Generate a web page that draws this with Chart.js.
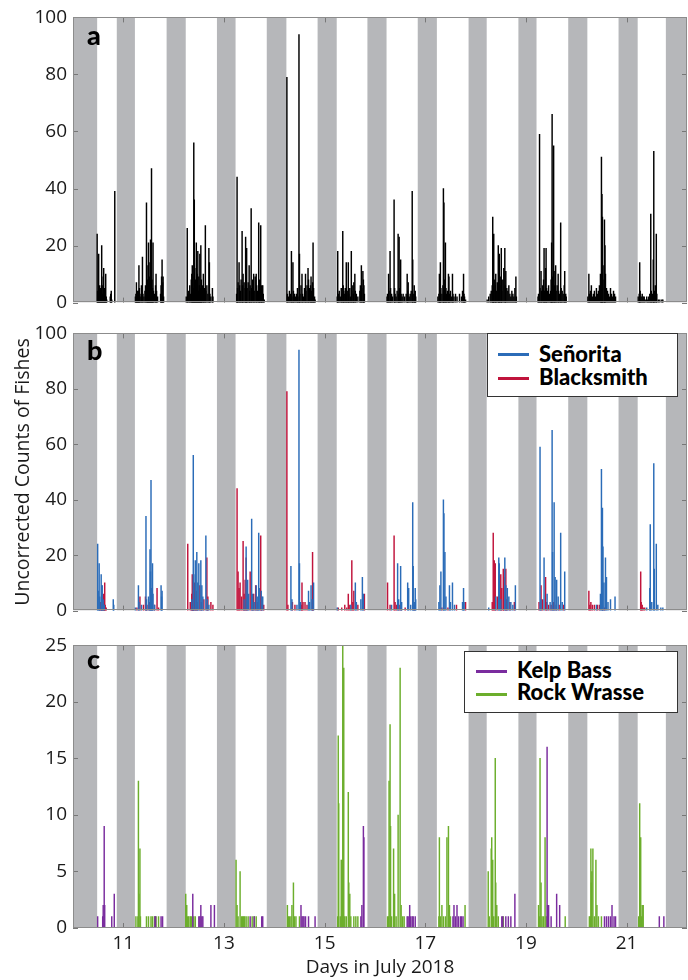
<!DOCTYPE html>
<html>
<head>
<meta charset="utf-8">
<script src="https://cdn.jsdelivr.net/npm/chart.js@4.4.0/dist/chart.umd.min.js"></script>
<style>
  body { margin: 0; background: #fff; }
  #wrap { position: relative; width: 688px; height: 980px; overflow: hidden; }
  .panel { position: absolute; left: 0; }
  .tag { position: absolute; left: 87px; font: 900 27px Lato; line-height: 27px; color: #000; }
  .legend { position: absolute; background: #fff; border: 1.5px solid #333; box-sizing: border-box; }
  .legend div { position: absolute; font: 900 22px Lato; line-height: 22px; white-space: nowrap; color: #000; }
  .legend span { position: absolute; height: 3px; width: 31px; }
</style>
</head>
<body>
<div id="wrap">
  <canvas id="chartA" class="panel" width="688" height="320" style="top:0px"></canvas>
  <canvas id="chartB" class="panel" width="688" height="312" style="top:316px"></canvas>
  <canvas id="chartC" class="panel" width="688" height="352" style="top:628px"></canvas>

  <div class="tag" style="top:21px">a</div>
  <div class="tag" style="top:336px">b</div>
  <div class="tag" style="top:645px">c</div>

  <div class="legend" style="left:487px; top:333px; width:191px; height:64px">
    <span style="left:10px; top:19px; background:#2b6cb8"></span>
    <div style="left:51px; top:9px">Señorita</div>
    <span style="left:10px; top:43px; background:#c0143c"></span>
    <div style="left:51px; top:32px">Blacksmith</div>
  </div>
  <div class="legend" style="left:464px; top:651px; width:214px; height:62px">
    <span style="left:11px; top:18px; background:#7a2c9e"></span>
    <div style="left:52px; top:7px">Kelp Bass</div>
    <span style="left:11px; top:41px; background:#6cae2c"></span>
    <div style="left:52px; top:29px">Rock Wrasse</div>
  </div>
</div>
<script>
// tick labels
const dayTicks = [11, 13, 15, 17, 19, 21];
const countTicks = [0, 20, 40, 60, 80, 100];
const smallCountTicks = [0, 5, 10, 15, 20, 25];

// night periods (grey), in days of July 2018
const nightStart = [10.0, 10.87, 11.86, 12.86, 13.85, 14.86, 15.85, 16.85, 17.86, 18.85, 19.84, 20.84, 21.78];
const nightEnd = [10.48, 11.23, 12.24, 13.23, 14.24, 15.24, 16.23, 17.23, 18.22, 19.21, 20.22, 21.22, 22.2];

// [day, count]
const allFishes = [
  [10.48,24],[10.49,4],[10.50,3],[10.51,17],[10.52,5],[10.53,6],[10.54,4],[10.55,5],[10.56,3],[10.57,20],[10.58,6],[10.59,3],[10.60,9],[10.61,12],[10.62,4],[10.63,5],[10.64,3],[10.65,10],[10.66,2],[10.67,1],[10.74,2],[10.75,3],[10.76,4],[10.77,1],[10.83,39],
  [11.24,2],[11.25,3],[11.26,7],[11.27,2],[11.28,4],[11.29,3],[11.30,4],[11.31,13],[11.32,5],[11.33,3],[11.35,2],[11.36,6],[11.38,16],[11.39,3],[11.41,2],[11.43,4],[11.44,6],[11.46,35],[11.47,5],[11.48,8],[11.49,13],[11.50,21],[11.51,6],[11.52,9],[11.53,14],[11.54,22],[11.55,10],[11.56,47],[11.57,8],[11.58,5],[11.59,21],[11.60,4],[11.62,3],[11.64,6],[11.65,10],[11.66,4],[11.68,2],[11.74,3],[11.75,6],[11.76,9],[11.77,15],[11.78,7],[11.79,9],[11.80,2],
  [12.25,2],[12.27,26],[12.28,3],[12.30,4],[12.32,6],[12.33,3],[12.35,8],[12.36,10],[12.37,13],[12.38,9],[12.39,5],[12.40,56],[12.41,36],[12.42,12],[12.43,8],[12.44,6],[12.45,21],[12.46,7],[12.47,10],[12.48,18],[12.49,4],[12.50,9],[12.51,6],[12.52,17],[12.53,5],[12.54,20],[12.55,8],[12.56,4],[12.57,6],[12.59,10],[12.60,3],[12.61,5],[12.63,27],[12.64,4],[12.66,6],[12.68,3],[12.70,19],[12.71,14],[12.72,3],[12.74,2],[12.77,5],[12.78,2],
  [13.25,3],[13.26,44],[13.27,5],[13.28,7],[13.30,14],[13.31,6],[13.33,4],[13.34,8],[13.36,25],[13.37,6],[13.38,10],[13.40,7],[13.42,5],[13.43,23],[13.44,8],[13.45,19],[13.46,5],[13.48,7],[13.50,13],[13.51,4],[13.52,6],[13.54,33],[13.55,5],[13.57,8],[13.59,10],[13.60,4],[13.62,9],[13.64,10],[13.65,6],[13.67,4],[13.69,28],[13.70,5],[13.71,8],[13.73,27],[13.74,4],[13.75,6],[13.77,6],[13.78,3],[13.80,1],
  [14.25,79],[14.26,3],[14.28,2],[14.30,4],[14.32,3],[14.34,18],[14.35,2],[14.37,14],[14.38,4],[14.40,3],[14.42,2],[14.44,3],[14.46,5],[14.47,2],[14.49,94],[14.50,17],[14.51,3],[14.53,6],[14.55,10],[14.56,3],[14.58,2],[14.60,5],[14.62,10],[14.63,4],[14.65,6],[14.67,12],[14.68,8],[14.70,5],[14.72,6],[14.73,9],[14.74,4],[14.76,7],[14.77,21],[14.78,5],[14.80,2],[14.81,1],
  [15.25,2],[15.26,18],[15.27,3],[15.29,4],[15.31,2],[15.33,5],[15.34,3],[15.36,25],[15.37,6],[15.38,4],[15.40,3],[15.41,5],[15.43,14],[15.44,3],[15.46,4],[15.47,14],[15.48,3],[15.50,5],[15.51,2],[15.53,18],[15.54,4],[15.56,6],[15.57,3],[15.58,7],[15.60,10],[15.61,4],[15.63,3],[15.66,2],[15.70,4],[15.71,6],[15.73,13],[15.74,5],[15.76,11],[15.77,8],[15.78,6],[15.79,3],
  [16.24,2],[16.25,3],[16.27,10],[16.28,4],[16.30,18],[16.31,5],[16.33,3],[16.35,2],[16.38,36],[16.39,5],[16.40,3],[16.42,2],[16.44,4],[16.46,24],[16.47,3],[16.48,23],[16.49,5],[16.51,15],[16.52,3],[16.54,2],[16.56,3],[16.59,2],[16.62,3],[16.64,10],[16.65,4],[16.66,7],[16.68,2],[16.70,3],[16.72,4],[16.74,39],[16.75,15],[16.76,3],[16.78,6],[16.79,3],[16.80,4],[16.81,2],
  [17.25,2],[17.27,3],[17.28,10],[17.29,4],[17.30,14],[17.31,5],[17.33,3],[17.35,6],[17.36,40],[17.37,35],[17.38,8],[17.40,21],[17.41,5],[17.42,3],[17.44,4],[17.46,10],[17.47,9],[17.48,3],[17.50,4],[17.52,2],[17.54,10],[17.55,3],[17.57,2],[17.60,3],[17.63,2],[17.68,3],[17.72,2],[17.74,4],[17.76,10],[17.77,3],[17.78,2],[17.80,1],
  [18.23,1],[18.26,2],[18.29,3],[18.31,4],[18.33,6],[18.34,30],[18.35,5],[18.36,24],[18.37,8],[18.39,6],[18.40,10],[18.41,4],[18.43,7],[18.45,20],[18.46,5],[18.47,17],[18.48,6],[18.50,9],[18.51,19],[18.52,4],[18.54,8],[18.56,12],[18.58,19],[18.59,6],[18.60,11],[18.62,5],[18.64,4],[18.66,6],[18.68,3],[18.70,2],[18.72,4],[18.74,3],[18.76,2],[18.78,5],[18.80,9],[18.81,2],
  [19.24,2],[19.25,3],[19.27,59],[19.28,5],[19.30,11],[19.31,4],[19.33,6],[19.35,8],[19.36,19],[19.37,4],[19.39,12],[19.40,19],[19.41,5],[19.43,4],[19.45,6],[19.47,3],[19.49,4],[19.50,8],[19.51,21],[19.52,66],[19.53,9],[19.55,55],[19.56,11],[19.57,6],[19.59,13],[19.60,4],[19.62,6],[19.64,10],[19.65,4],[19.67,3],[19.69,28],[19.70,5],[19.72,4],[19.74,3],[19.76,6],[19.77,11],[19.79,3],[19.80,2],
  [20.23,2],[20.25,10],[20.26,3],[20.28,4],[20.30,6],[20.32,2],[20.34,3],[20.36,4],[20.38,2],[20.40,5],[20.42,3],[20.44,4],[20.46,6],[20.48,10],[20.49,4],[20.50,51],[20.51,38],[20.52,30],[20.53,8],[20.55,13],[20.56,29],[20.57,20],[20.58,10],[20.60,5],[20.62,4],[20.64,3],[20.66,2],[20.68,5],[20.70,3],[20.72,2],[20.74,4],[20.76,3],[20.78,2],
  [21.23,2],[21.25,3],[21.26,14],[21.27,4],[21.29,2],[21.31,3],[21.33,2],[21.35,2],[21.37,1],[21.40,2],[21.42,1],[21.44,2],[21.46,3],[21.48,31],[21.49,4],[21.51,3],[21.53,15],[21.54,53],[21.55,4],[21.57,6],[21.59,24],[21.60,3],[21.63,1],[21.66,1],[21.70,1],[21.72,1]
];

const senorita = [
  [10.49,24],[10.50,7],[10.52,17],[10.53,5],[10.56,13],[10.57,9],[10.58,9],[10.60,4],[10.62,2],[10.80,4],[10.81,2],
  [11.24,1],[11.30,9],[11.31,3],[11.36,2],[11.45,34],[11.46,4],[11.50,5],[11.53,22],[11.54,14],[11.55,47],[11.56,8],[11.58,17],[11.59,6],[11.62,2],[11.75,9],[11.76,5],[11.77,7],
  [12.36,4],[12.39,56],[12.40,13],[12.43,18],[12.46,21],[12.48,10],[12.50,17],[12.54,18],[12.56,9],[12.58,5],[12.64,27],[12.67,4],[12.70,2],
  [13.40,4],[13.44,23],[13.47,11],[13.49,6],[13.55,33],[13.57,6],[13.60,3],[13.64,9],[13.66,5],[13.69,28],[13.70,8],[13.74,7],[13.77,5],
  [14.33,16],[14.35,4],[14.45,2],[14.49,94],[14.50,17],[14.52,3],[14.68,7],[14.70,3],[14.73,9],[14.75,4],[14.78,10],
  [15.25,1],[15.52,2],[15.61,10],[15.63,3],[15.72,4],[15.75,12],[15.77,6],
  [16.33,2],[16.45,17],[16.47,4],[16.51,16],[16.53,3],[16.65,10],[16.67,8],[16.71,2],[16.75,39],[16.76,16],[16.78,3],[16.80,8],[16.81,4],
  [17.27,3],[17.29,9],[17.31,14],[17.36,40],[17.37,35],[17.39,21],[17.41,5],[17.48,9],[17.50,3],[17.54,10],[17.58,2],[17.74,3],[17.76,8],[17.77,3],
  [18.26,1],[18.40,5],[18.46,19],[18.47,17],[18.50,4],[18.58,19],[18.60,9],[18.63,8],[18.66,5],[18.70,3],[18.74,2],[18.79,9],
  [19.28,59],[19.30,4],[19.36,19],[19.42,6],[19.48,3],[19.52,65],[19.53,21],[19.56,39],[19.58,12],[19.61,11],[19.64,5],[19.69,28],[19.72,3],[19.77,14],
  [20.40,2],[20.48,6],[20.50,51],[20.52,37],[20.53,23],[20.55,10],[20.58,19],[20.60,12],[20.63,3],[20.68,4],[20.77,5],
  [21.40,1],[21.46,8],[21.47,31],[21.50,3],[21.54,53],[21.55,15],[21.59,24],[21.62,2],[21.68,1],[21.72,1]
];

const blacksmith = [
  [10.53,2],[10.55,3],[10.57,5],[10.59,4],[10.61,6],[10.62,3],[10.63,10],[10.64,2],[10.66,1],
  [11.27,1],[11.33,5],[11.40,2],[11.44,5],[11.47,2],[11.52,3],[11.57,3],[11.62,2],[11.67,8],[11.70,1],
  [12.28,24],[12.33,3],[12.36,6],[12.37,13],[12.38,8],[12.39,5],[12.41,10],[12.43,4],[12.45,7],[12.47,3],[12.52,9],[12.55,3],[12.60,4],[12.66,19],[12.68,5],[12.74,3],[12.78,2],
  [13.26,44],[13.28,14],[13.30,8],[13.32,10],[13.35,5],[13.38,25],[13.40,6],[13.42,11],[13.44,19],[13.46,4],[13.52,14],[13.56,4],[13.59,6],[13.63,9],[13.67,3],[13.73,27],[13.75,5],[13.79,2],
  [14.25,79],[14.27,2],[14.36,3],[14.41,2],[14.54,2],[14.55,10],[14.57,3],[14.61,3],[14.65,2],[14.76,21],[14.77,4],
  [15.27,1],[15.34,1],[15.40,2],[15.44,1],[15.47,6],[15.50,2],[15.54,18],[15.56,3],[15.58,7],[15.66,2],[15.79,6],
  [16.25,10],[16.30,2],[16.38,27],[16.40,3],[16.43,2],[16.48,2],[16.52,3],[16.60,1],[16.78,2],
  [17.33,1],[17.45,1],[17.62,2],[17.80,3],
  [18.33,3],[18.35,28],[18.37,18],[18.39,17],[18.43,5],[18.50,13],[18.52,8],[18.55,15],[18.56,12],[18.60,15],[18.62,4],[18.68,3],[18.77,3],
  [19.26,3],[19.30,9],[19.33,4],[19.39,12],[19.41,3],[19.45,2],[19.50,2],[19.55,3],[19.60,2],[19.66,2],[19.75,2],
  [20.25,7],[20.27,2],[20.29,3],[20.32,2],[20.36,2],[20.42,2],[20.46,2],[20.52,2],[20.56,1],
  [21.28,14],[21.29,3],[21.31,2],[21.33,1],[21.36,1]
];

const kelpBass = [
  [10.49,1],[10.59,1],[10.60,2],[10.62,9],[10.63,2],[10.77,1],[10.82,3],
  [11.63,1],[11.64,1],[11.75,1],[11.78,1],
  [12.38,3],[12.50,1],[12.52,1],[12.54,2],[12.56,1],[12.58,1],[12.74,2],[12.81,2],
  [13.52,1],[13.60,1],[13.75,1],[13.77,1],
  [14.53,2],[14.55,1],[14.57,1],[14.59,1],[14.62,1],[14.68,1],[14.81,1],
  [15.72,1],[15.74,2],[15.77,9],[15.78,8],
  [16.64,1],[16.66,1],[16.69,2],[16.71,1],[16.74,1],[16.76,1],[16.80,1],
  [17.55,1],[17.57,2],[17.60,1],[17.63,2],[17.66,1],[17.70,1],[17.72,1],[17.75,1],
  [18.52,1],[18.54,1],[18.60,1],[18.65,1],[18.70,1],[18.78,3],
  [19.42,16],[19.43,2],[19.45,2],[19.50,1],[19.61,3],[19.67,2],
  [20.56,1],[20.60,1],[20.64,1],[20.68,1],[20.71,2],[20.75,1],[20.78,1],
  [21.65,1],[21.74,1]
];

const rockWrasse = [
  [11.25,1],[11.29,1],[11.30,13],[11.31,3],[11.33,7],[11.34,1],[11.46,1],[11.50,1],[11.55,1],[11.58,1],[11.62,1],[11.65,1],[11.70,1],
  [12.24,3],[12.26,2],[12.28,1],[12.30,1],[12.33,1],[12.35,1],[12.40,1],[12.43,1],
  [13.24,6],[13.26,2],[13.28,1],[13.32,5],[13.35,1],[13.37,1],[13.39,1],[13.41,1],[13.44,1],[13.48,1],[13.56,1],[13.60,1],[13.64,1],
  [14.26,2],[14.28,1],[14.30,1],[14.33,1],[14.35,2],[14.38,4],[14.40,1],[14.43,1],[14.50,1],
  [15.26,1],[15.27,17],[15.28,11],[15.31,1],[15.33,6],[15.35,6],[15.36,25],[15.38,23],[15.40,1],[15.43,1],[15.47,12],[15.48,4],[15.50,3],[15.52,1],[15.58,1],[15.62,1],[15.66,1],
  [16.25,1],[16.27,1],[16.28,13],[16.30,18],[16.31,9],[16.33,1],[16.37,7],[16.39,3],[16.42,1],[16.46,10],[16.50,23],[16.52,2],[16.55,1],[16.58,1],
  [17.27,1],[17.28,8],[17.30,1],[17.33,2],[17.36,1],[17.40,1],[17.43,8],[17.46,9],[17.48,2],[17.50,1],[17.79,2],
  [18.25,5],[18.27,1],[18.31,7],[18.32,8],[18.34,6],[18.36,1],[18.39,15],[18.40,4],[18.42,2],[18.45,1],[18.55,1],
  [19.25,2],[19.27,1],[19.28,15],[19.30,4],[19.32,1],[19.35,1],[19.38,8],[19.40,1],[19.78,1],
  [20.26,1],[20.28,1],[20.29,7],[20.30,4],[20.31,5],[20.33,7],[20.36,1],[20.39,6],[20.41,2],[20.44,1],[20.50,1],
  [21.24,1],[21.26,11],[21.27,7],[21.28,8],[21.30,1],[21.31,2],[21.33,2]
];

Chart.defaults.font.family = "'Open Sans', sans-serif";
Chart.defaults.color = '#1a1a1a';

const toPoints = arr => arr.map(p => ({ x: p[0], y: p[1] }));

function spikes(label, arr, color) {
  return {
    label: label,
    data: toPoints(arr),
    backgroundColor: color,
    borderWidth: 0,
    barThickness: 0.8,
    stack: 'one'
  };
}

// grey night bands, inner tick marks and the frame
const nightBands = {
  id: 'nightBands',
  beforeDatasetsDraw(chart) {
    const { ctx, chartArea: a, scales: { x } } = chart;
    ctx.save();
    ctx.beginPath();
    ctx.rect(a.left, a.top, a.width, a.height);
    ctx.clip();
    ctx.fillStyle = '#b6b7ba';
    nightStart.forEach((s, i) => {
      const x1 = x.getPixelForValue(s);
      const x2 = x.getPixelForValue(nightEnd[i]);
      ctx.fillRect(x1, a.top, x2 - x1, a.height);
    });
    ctx.restore();
  },
  afterDatasetsDraw(chart) {
    const { ctx, chartArea: a, scales: { x, y } } = chart;
    ctx.save();
    ctx.lineWidth = 1;
    ctx.strokeStyle = '#777';
    ctx.beginPath();
    dayTicks.forEach(v => {
      const px = Math.round(x.getPixelForValue(v)) + 0.5;
      ctx.moveTo(px, a.top); ctx.lineTo(px, a.top + 5);
      ctx.moveTo(px, a.bottom); ctx.lineTo(px, a.bottom - 5);
    });
    y.ticks.forEach(t => {
      const py = Math.round(y.getPixelForValue(t.value)) + 0.5;
      ctx.moveTo(a.left, py); ctx.lineTo(a.left + 5, py);
      ctx.moveTo(a.right, py); ctx.lineTo(a.right - 5, py);
    });
    ctx.stroke();
    ctx.strokeStyle = '#8c8c8c';
    ctx.strokeRect(Math.round(a.left) + 0.5, Math.round(a.top) + 0.5, Math.round(a.width) - 1, Math.round(a.height) - 1);
    ctx.restore();
  }
};

function makePanel(id, datasets, yTicks, padTop, padBottom, showX, yTitle) {
  return new Chart(document.getElementById(id), {
    type: 'bar',
    data: { datasets: datasets },
    options: {
      responsive: false,
      animation: false,
      devicePixelRatio: 1,
      layout: { padding: { top: padTop, bottom: padBottom, left: 0, right: 1 } },
      plugins: { legend: { display: false }, tooltip: { enabled: false } },
      scales: {
        x: {
          type: 'linear', min: 10, max: 22.2, offset: false,
          grid: { display: false, drawTicks: false },
          border: { display: false },
          afterBuildTicks: s => { s.ticks = dayTicks.map(v => ({ value: v })); },
          afterFit: s => { s.height = showX ? 52 : 0; },
          ticks: { display: showX, padding: 4, font: { size: 19 } },
          title: { display: showX, text: 'Days in July 2018', font: { size: 19 }, padding: { top: 0, bottom: 1 } }
        },
        y: {
          min: 0, max: yTicks[yTicks.length - 1], stacked: false,
          grid: { display: false, drawTicks: false },
          border: { display: false },
          afterBuildTicks: s => { s.ticks = yTicks.map(v => ({ value: v })); },
          afterFit: s => { s.width = 73; },
          ticks: { padding: 6, font: { size: 19 } },
          title: { display: !!yTitle, text: yTitle || '', font: { size: 19.5 }, padding: { top: 12, bottom: 0 } }
        }
      }
    },
    plugins: [nightBands]
  });
}

makePanel('chartA', [spikes('All fishes', allFishes, '#000000')], countTicks, 15, 14, false);
makePanel('chartB', [
  spikes('Señorita', senorita, '#2b6cb8'),
  spikes('Blacksmith', blacksmith, '#c0143c')
], countTicks, 12, 11, false, 'Uncorrected Counts of Fishes');
makePanel('chartC', [
  spikes('Kelp Bass', kelpBass, '#7a2c9e'),
  spikes('Rock Wrasse', rockWrasse, '#6cae2c')
], smallCountTicks, 12, 0, true);
</script>
</body>
</html>
